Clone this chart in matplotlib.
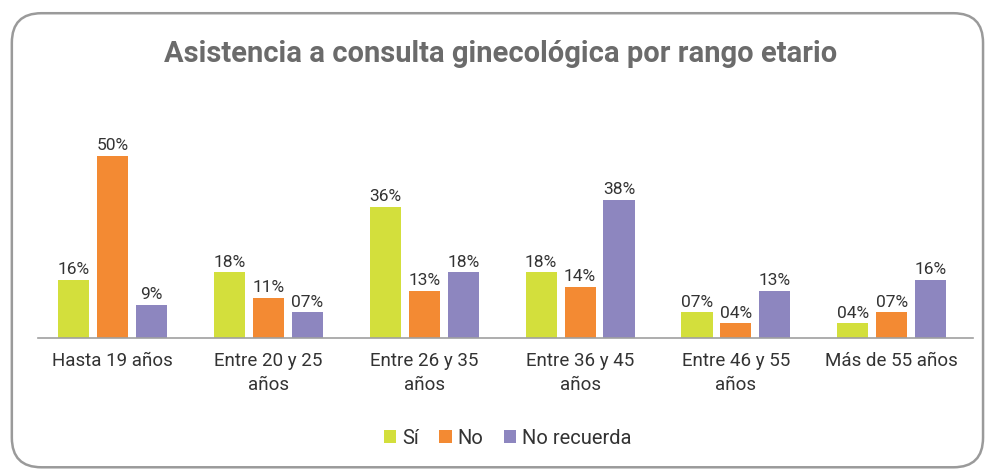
import matplotlib.pyplot as plt
import numpy as np
from matplotlib.patches import FancyBboxPatch

plt.rcParams['font.family'] = ['Roboto', 'DejaVu Sans']

# datos
categorias = ["Hasta 19 años", "Entre 20 y 25\naños", "Entre 26 y 35\naños",
              "Entre 36 y 45\naños", "Entre 46 y 55\naños", "Más de 55 años"]
si = [16, 18, 36, 18, 7, 4]
no = [50, 11, 13, 14, 4, 7]
no_recuerda = [9, 7, 18, 38, 13, 16]
etiq_si = ["16%", "18%", "36%", "18%", "07%", "04%"]
etiq_no = ["50%", "11%", "13%", "14%", "04%", "07%"]
etiq_nr = ["9%", "07%", "18%", "38%", "13%", "16%"]

colores = ["#D3DF3C", "#F38A33", "#8D86BF"]

fig = plt.figure(figsize=(9.86, 4.72), dpi=100)

# marco redondeado
marco = FancyBboxPatch((0.012, 0.01), 0.985, 0.962,
                       boxstyle="round,pad=0,rounding_size=0.03",
                       transform=fig.transFigure, facecolor="none",
                       edgecolor="#9a9a9a", linewidth=1.8,
                       mutation_aspect=986 / 472, zorder=5)
fig.patches.append(marco)

ax = fig.add_axes([0.0385, 0.284, 0.948, 0.401])
x = np.arange(len(categorias))
w = 0.2
d = 0.25
series = [(si, etiq_si), (no, etiq_no), (no_recuerda, etiq_nr)]
nombres = ["Sí", "No", "No recuerda"]
for k, (vals, etiq) in enumerate(series):
    b = ax.bar(x + (k - 1) * d, vals, w, color=colores[k], label=nombres[k])
    ax.bar_label(b, labels=etiq, padding=2, fontsize=12.5, color="#333333")

ax.set_xlim(-0.48, 5.52)
ax.set_ylim(0, 52)
ax.set_yticks([])
for s in ["top", "right", "left"]:
    ax.spines[s].set_visible(False)
ax.spines["bottom"].set_color("#a0a0a0")
ax.spines["bottom"].set_linewidth(1.2)
ax.set_xticks(x)
ax.set_xticklabels(categorias, fontsize=13.5, color="#333333", linespacing=1.45)
ax.tick_params(axis="x", length=0, pad=10)

fig.text(0.508, 0.885, "Asistencia a consulta ginecológica por rango etario",
         ha="center", va="center", fontsize=21, fontweight="bold", color="#6b6b6b")

fig.legend(loc="center", bbox_to_anchor=(0.515, 0.072), ncol=3, frameon=False,
           fontsize=14.5, handlelength=0.6, handleheight=0.6, handletextpad=0.3,
           columnspacing=1.0, labelcolor="#333333")

fig.savefig("out.png", dpi=100)
